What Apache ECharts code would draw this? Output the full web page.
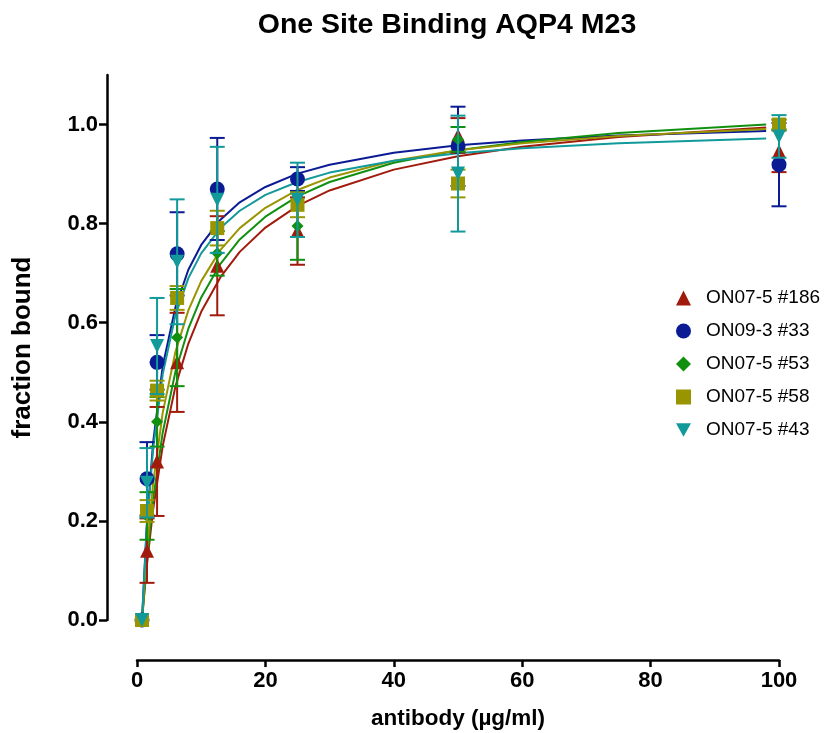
<!DOCTYPE html>
<html>
<head>
<meta charset="utf-8">
<script src="https://cdn.jsdelivr.net/npm/echarts@6/dist/echarts.min.js"></script>
<style>html,body{margin:0;padding:0;background:#fff}#c{width:826px;height:733px}</style>
</head>
<body>
<div id="c"></div>
<script>
// ---- data ----
const seriesNames = ['ON07-5 #186', 'ON09-3 #33', 'ON07-5 #53', 'ON07-5 #58', 'ON07-5 #43'];
const doses = [0.78, 1.5625, 3.125, 6.25, 12.5, 25, 50, 100];

const mean186 = [0, 0.14, 0.32, 0.52, 0.715, 0.785, 0.978, 0.946];
const err186  = [0, 0.065, 0.11, 0.10, 0.10, 0.068, 0.035, 0.042];
const mean33  = [0, 0.285, 0.52, 0.739, 0.87, 0.89, 0.956, 0.919];
const err33   = [0, 0.074, 0.055, 0.084, 0.103, 0.024, 0.08, 0.084];
const mean53  = [0, 0.21, 0.40, 0.57, 0.74, 0.795, 0.97, 1.0];
const err53   = [0, 0.048, 0.05, 0.098, 0.045, 0.068, 0.025, 0.01];
const mean58  = [0, 0.22, 0.463, 0.65, 0.791, 0.838, 0.881, 1.0];
const err58   = [0, 0.022, 0.02, 0.024, 0.035, 0.025, 0.028, 0.01];
const mean43  = [0, 0.277, 0.553, 0.723, 0.848, 0.848, 0.901, 0.976];
const err43   = [0, 0.07, 0.097, 0.126, 0.107, 0.075, 0.117, 0.043];

// fitted curves
const curveX   = [0.78, 1.5, 2.5, 4, 6, 8, 10, 13, 16, 20, 25, 30, 40, 50, 60, 75, 98];
const curve186 = [0, 0.106, 0.222, 0.351, 0.472, 0.558, 0.622, 0.692, 0.743, 0.792, 0.836, 0.867, 0.909, 0.936, 0.955, 0.975, 0.994];
const curve33  = [0, 0.187, 0.357, 0.512, 0.632, 0.707, 0.757, 0.808, 0.843, 0.874, 0.901, 0.919, 0.943, 0.958, 0.968, 0.978, 0.987];
const curve53  = [0, 0.117, 0.242, 0.378, 0.502, 0.588, 0.651, 0.719, 0.768, 0.814, 0.855, 0.884, 0.923, 0.948, 0.965, 0.983, 1.000];
const curve58  = [0, 0.136, 0.274, 0.418, 0.542, 0.625, 0.684, 0.747, 0.791, 0.832, 0.868, 0.893, 0.927, 0.948, 0.962, 0.977, 0.991];
const curve43  = [0, 0.180, 0.344, 0.496, 0.616, 0.690, 0.740, 0.791, 0.826, 0.858, 0.884, 0.903, 0.927, 0.942, 0.952, 0.962, 0.972];

const yTicks = [0, 0.2, 0.4, 0.6, 0.8, 1.0];

// ---- styling ----
const colors = ['#A11B0D', '#0B1B94', '#11900F', '#999500', '#12999A'];
const symbols = ['triangle', 'circle', 'diamond', 'rect', 'path://M0,0 L10,0 L5,9 Z'];
const symSizes = [14, 15, 12, 14, 14];
const FONT = '"Liberation Sans", Arial, sans-serif';

const means = [mean186, mean33, mean53, mean58, mean43];
const errs = [err186, err33, err53, err58, err43];
const curves = [curve186, curve33, curve53, curve58, curve43];

const series = [];
curves.forEach((c, i) => {
  series.push({
    type: 'line', silent: true, showSymbol: false, symbol: 'none',
    data: curveX.map((x, k) => [x, c[k]]),
    lineStyle: { color: colors[i], width: 2 }, z: 2
  });
});
means.forEach((m, i) => {
  const e = errs[i];
  series.push({
    type: 'custom', silent: true, z: 3 + i * 2,
    data: doses.map((x, k) => [x, m[k] - e[k], m[k] + e[k]]).filter((d, k) => e[k] > 0),
    encode: { x: 0, y: [1, 2] },
    renderItem: function (params, api) {
      const x = api.value(0);
      const p1 = api.coord([x, api.value(2)]);
      const p2 = api.coord([x, api.value(1)]);
      const hw = 7.5;
      const st = { stroke: colors[i], lineWidth: 2 };
      return {
        type: 'group',
        children: [
          { type: 'line', shape: { x1: p1[0], y1: p1[1], x2: p2[0], y2: p2[1] }, style: st },
          { type: 'line', shape: { x1: p1[0] - hw, y1: p1[1], x2: p1[0] + hw, y2: p1[1] }, style: st },
          { type: 'line', shape: { x1: p2[0] - hw, y1: p2[1], x2: p2[0] + hw, y2: p2[1] }, style: st }
        ]
      };
    }
  });
  series.push({
    type: 'scatter', name: seriesNames[i], z: 4 + i * 2,
    symbol: symbols[i], symbolSize: symSizes[i],
    itemStyle: { color: colors[i], opacity: 1 },
    data: doses.map((x, k) => [x, m[k]])
  });
});

const chart = echarts.init(document.getElementById('c'), null, { renderer: 'canvas' });
chart.setOption({
  animation: false,
  backgroundColor: '#fff',
  title: {
    text: 'One Site Binding AQP4 M23', left: 442, top: 6, textAlign: 'center',
    textStyle: { fontFamily: FONT, fontSize: 28.5, fontWeight: 'bold', color: '#000' }
  },
  legend: {
    orient: 'vertical', left: 671, top: 283, itemWidth: 15, itemHeight: 15, itemGap: 13,
    data: seriesNames.map((n, i) => ({ name: n, icon: symbols[i] })),
    textStyle: { fontFamily: FONT, fontSize: 19, lineHeight: 20, color: '#000', padding: [0, 0, 0, 10] }
  },
  grid: { left: 137, right: 47, top: 75, bottom: 113, containLabel: false, outerBoundsMode: 'none' },
  xAxis: {
    type: 'value', min: 0, max: 100, interval: 20, offset: 40,
    name: 'antibody (µg/ml)', nameLocation: 'middle', nameGap: 47, nameMoveOverlap: false,
    nameTextStyle: { fontFamily: FONT, fontSize: 22.5, fontWeight: 'bold', color: '#000' },
    axisLine: { onZero: false, lineStyle: { color: '#000', width: 2.5 } },
    axisTick: { show: true, length: 7, inside: false, lineStyle: { color: '#000', width: 2.5 } },
    axisLabel: { fontFamily: FONT, fontSize: 22, fontWeight: 'bold', color: '#000', margin: 10 },
    splitLine: { show: false }
  },
  yAxis: {
    type: 'value', min: 0, max: 1.1, offset: 30,
    name: 'fraction bound', nameLocation: 'middle', nameGap: 71, nameRotate: 90, nameMoveOverlap: false,
    nameTextStyle: { fontFamily: FONT, fontSize: 26, fontWeight: 'bold', color: '#000' },
    axisLine: { show: true, onZero: false, lineStyle: { color: '#000', width: 2.5 } },
    axisTick: { show: true, length: 8, customValues: yTicks, lineStyle: { color: '#000', width: 2.5 } },
    axisLabel: { customValues: yTicks, fontFamily: FONT, fontSize: 22, fontWeight: 'bold', color: '#000', margin: 9,
      formatter: v => v.toFixed(1) },
    splitLine: { show: false }
  },
  series: series
});
</script>
</body>
</html>
